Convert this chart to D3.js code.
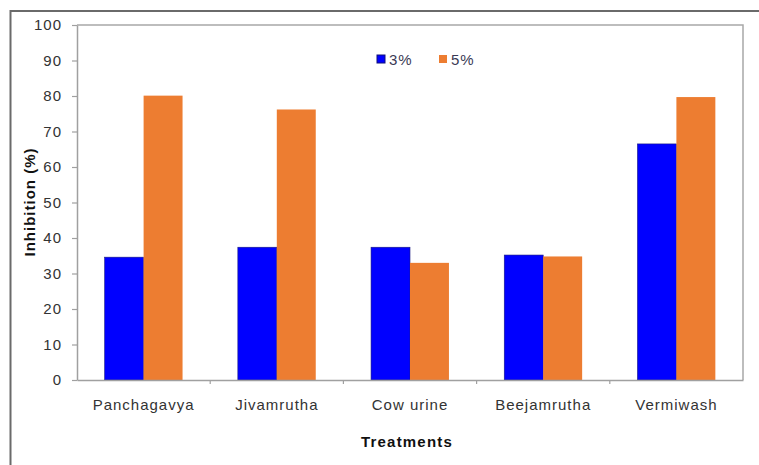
<!DOCTYPE html>
<html>
<head>
<meta charset="utf-8">
<script src="https://cdn.jsdelivr.net/npm/d3@7/dist/d3.min.js"></script>
<style>
  html, body { margin: 0; padding: 0; background: #fff; }
  svg { display: block; font-family: Arial, "Liberation Sans", sans-serif; }
</style>
</head>
<body>
<svg id="chart" width="759" height="465"></svg>
<script>
// Inhibition (%) of each treatment at two concentrations
const categories = ["Panchagavya", "Jivamrutha", "Cow urine", "Beejamrutha", "Vermiwash"];
const seriesNames = ["3%", "5%"];
const values3 = [34.6, 37.4, 37.4, 35.2, 66.5];
const values5 = [80.1, 76.2, 33.0, 34.8, 79.7];
const yTicks = [0, 10, 20, 30, 40, 50, 60, 70, 80, 90, 100];
const colors = ["#0000ff", "#ed7d31"];

const svg = d3.select("#chart");
const W = 759, H = 465;
const m = { left: 77, top: 25, right: 743, bottom: 380 };

// outer frame (runs off the right and bottom edges)
svg.append("rect")
  .attr("x", 10.5).attr("y", 11)
  .attr("width", W).attr("height", H)
  .attr("fill", "none").attr("stroke", "#6a6a6a").attr("stroke-width", 2);

const x0 = d3.scaleBand().domain(categories).range([m.left, m.right]).padding(0);
const x1 = d3.scaleBand().domain(seriesNames).range([0, x0.bandwidth()])
  .paddingInner(0).paddingOuter(0.71);
const y = d3.scaleLinear().domain([0, 100]).range([m.bottom, m.top]);

// plot area frame: top and right edges
svg.append("path")
  .attr("d", `M${m.left},${m.top}H${m.right}V${m.bottom}`)
  .attr("fill", "none").attr("stroke", "#a8a8a8").attr("stroke-width", 1.5);

// bars
const rows = categories.map((c, i) => ({ cat: c, vals: [values3[i], values5[i]] }));
const g = svg.append("g");
rows.forEach(r => {
  r.vals.forEach((v, j) => {
    g.append("rect")
      .attr("x", x0(r.cat) + x1(seriesNames[j]))
      .attr("y", y(v))
      .attr("width", x1.bandwidth())
      .attr("height", y(0) - y(v))
      .attr("fill", colors[j])
      .attr("stroke", j === 0 ? "#1a1a80" : "none")
      .attr("stroke-width", 0.6);
  });
});

// y axis
const yAxis = svg.append("g")
  .attr("transform", `translate(${m.left},0)`)
  .call(d3.axisLeft(y).tickValues(yTicks).tickSize(5).tickPadding(10).tickSizeOuter(0));
yAxis.select(".domain").attr("stroke", "#a0a0a0").attr("stroke-width", 1.5);
yAxis.selectAll(".tick line").attr("stroke", "#a0a0a0").attr("stroke-width", 1.2);
yAxis.selectAll(".tick text")
  .attr("fill", "#333").style("font-size", "15px").style("letter-spacing", "1px");

// x axis: ticks sit on the category boundaries
const xAxis = svg.append("g")
  .attr("transform", `translate(0,${m.bottom})`)
  .call(d3.axisBottom(x0).tickSize(0).tickPadding(19).tickSizeOuter(0));
xAxis.select(".domain").attr("stroke", "#a0a0a0").attr("stroke-width", 1.5);
xAxis.selectAll(".tick text")
  .attr("fill", "#333").style("font-size", "15px").style("letter-spacing", "1px");
const bounds = categories.slice(1).map(c => x0(c));
xAxis.selectAll(".bound").data(bounds).enter().append("line")
  .attr("x1", d => d).attr("x2", d => d)
  .attr("y1", 0).attr("y2", 4)
  .attr("stroke", "#a0a0a0").attr("stroke-width", 1.2);

// axis titles
svg.append("text")
  .attr("x", (m.left + m.right) / 2 - 3).attr("y", 447)
  .attr("text-anchor", "middle")
  .style("font-size", "15px").style("font-weight", "bold").style("letter-spacing", "1.2px")
  .attr("fill", "#111")
  .text("Treatments");

svg.append("text")
  .attr("transform", "translate(35,202) rotate(-90)")
  .attr("text-anchor", "middle")
  .style("font-size", "15px").style("font-weight", "bold").style("letter-spacing", "1px")
  .attr("fill", "#111")
  .text("Inhibition (%)");

// legend
const legend = svg.append("g");
const legendX = [377, 439];
seriesNames.forEach((s, j) => {
  legend.append("rect")
    .attr("x", legendX[j]).attr("y", 55)
    .attr("width", 8).attr("height", 8)
    .attr("fill", colors[j])
    .attr("stroke", j === 0 ? "#10107a" : "none");
  legend.append("text")
    .attr("x", legendX[j] + 12).attr("y", 65)
    .style("font-size", "15px").style("letter-spacing", "1px")
    .attr("fill", "#3a3a55")
    .text(s);
});
</script>
</body>
</html>
